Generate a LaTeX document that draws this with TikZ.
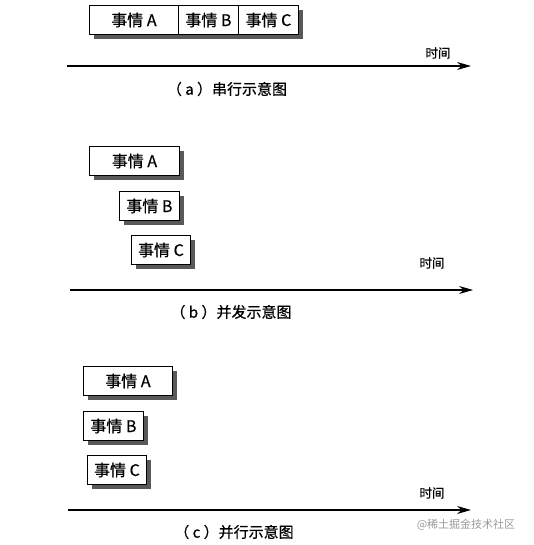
\documentclass[tikz,border=0pt]{standalone}
\usepackage{fontspec}
\setmainfont{Noto Sans CJK SC}
\newfontfamily\heavycjk[FakeBold=0.6]{Noto Sans CJK SC}
\usetikzlibrary{shadows,arrows.meta}
\begin{document}
\begin{tikzpicture}[x=1pt,y=-1pt,
  evt/.style={draw=black, line width=0.9pt, fill=white, anchor=north west, inner sep=0pt,
    minimum height=29pt, font=\heavycjk\fontsize{16}{16}\selectfont,
    drop shadow={shadow xshift=5pt, shadow yshift=-5pt, fill=black!65, opacity=1}},
  timeline/.style={line width=1.1pt, -{Stealth[length=14pt,width=8pt]}},
  timelbl/.style={font=\heavycjk\fontsize{12.5}{12.5}\selectfont},
  caption/.style={font=\heavycjk\fontsize{15}{15}\selectfont},
  wm/.style={font=\fontsize{11}{11}\selectfont, text=black!40}]
\useasboundingbox (0,0) rectangle (533,545);
% (a)
\node[evt, minimum width=89pt] (aA) at (89,5) {事情 A};
\node[evt, minimum width=60pt] (aB) at (178,5) {事情 B};
\node[evt, minimum width=60pt] (aC) at (238,5) {事情 C};
\coordinate (a0) at (67,66);
\coordinate (a1) at (471,66);
\draw[timeline] (a0) -- (a1);
\node[timelbl] (at) at (438,53) {时间};
\node[caption] (acap) at (227,89) {（ a ）串行示意图};
% (b)
\node[evt, minimum width=90pt] (bA) at (89,146) {事情 A};
\node[evt, minimum width=60pt] (bB) at (119,191) {事情 B};
\node[evt, minimum width=59pt] (bC) at (131,235) {事情 C};
\coordinate (b0) at (70,290);
\coordinate (b1) at (473,290);
\draw[timeline] (b0) -- (b1);
\node[timelbl] (bt) at (432,263) {时间};
\node[caption] (bcap) at (231,312) {（ b ）并发示意图};
% (c)
\node[evt, minimum width=89pt] (cA) at (83,366) {事情 A};
\node[evt, minimum width=60pt] (cB) at (83,411) {事情 B};
\node[evt, minimum width=59pt] (cC) at (87,455) {事情 C};
\coordinate (c0) at (68,510);
\coordinate (c1) at (471,510);
\draw[timeline] (c0) -- (c1);
\node[timelbl] (ct) at (432,493) {时间};
\node[caption] (ccap) at (234,532) {（ c ）并行示意图};
\node[wm] (wmk) at (466,525) {@稀土掘金技术社区};
\end{tikzpicture}
\end{document}
